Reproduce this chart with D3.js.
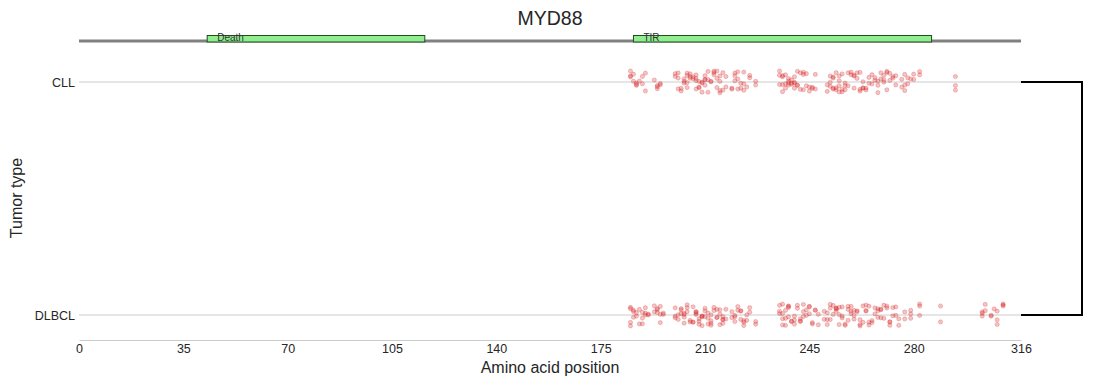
<!DOCTYPE html>
<html lang="en">
  <head>
    <meta charset="utf-8">
    <title>MYD88</title>
    <script src="https://cdn.jsdelivr.net/npm/d3@7"></script>
    <style>
      body { margin: 0; background: #fff; }
      svg text { font-family: "Liberation Sans", Arial, sans-serif; fill: #262626; }
    </style>
  </head>
  <body>
    <script>
    // gene + domains
    var gene = "MYD88";
    var proteinLength = 316;
    var domainNames = ["Death", "TIR"];
    var domainStart = [43, 186];
    var domainEnd = [116, 286];

    var tumorTypes = ["CLL", "DLBCL"];
    var xTicks = [0, 35, 70, 105, 140, 175, 210, 245, 280, 316];

    // mutation positions (aa) and how many mutations at each, per tumor type
    var cllPos = [185,186,187,188,189,190,193,194,195,
      200,201,202,203,204,205,206,207,208,209,210,211,212,213,214,215,216,217,219,220,221,222,223,224,225,227,
      235,236,237,238,239,240,241,242,243,244,245,246,247,
      251,252,253,254,255,256,257,258,259,260,261,262,263,264,265,266,267,268,269,270,271,272,273,274,276,277,278,279,280,282,
      294];
    var cllCount = [3,2,3,1,2,2,1,3,2,
      2,3,2,3,4,3,2,4,3,3,4,3,2,3,3,4,2,2,2,3,3,2,3,1,2,2,
      3,4,3,4,3,4,3,2,3,2,2,2,2,
      2,3,4,3,4,3,3,2,2,3,2,3,3,2,2,2,2,3,2,3,3,2,2,2,2,3,2,1,2,2,
      3];
    var dlbclPos = [185,186,187,188,189,190,191,193,194,195,196,
      200,201,202,203,204,205,206,207,208,209,210,211,212,213,214,215,216,217,219,220,221,222,223,224,225,227,
      235,236,237,238,239,240,241,242,243,244,245,246,247,248,
      250,251,252,253,254,255,256,257,258,259,260,261,262,263,264,265,266,267,268,269,270,271,272,273,274,275,277,279,282,
      289,
      303,304,306,307,308,310];
    var dlbclCount = [4,3,2,2,3,3,2,2,3,3,2,
      3,2,3,4,3,2,3,4,3,4,3,3,4,2,3,3,4,2,2,3,2,3,3,2,2,2,
      3,4,3,4,2,3,2,3,3,2,3,2,2,2,
      2,3,3,2,4,3,3,2,3,3,3,2,3,2,3,3,2,2,3,3,2,2,3,2,2,2,2,3,3,
      2,
      3,2,2,1,3,3];

    var w = 1095, h = 385;
    var left = 79, right = 1021;

    var svg = d3.select("body").append("svg")
                .attr("width", w)
                .attr("height", h);

    var xScale = d3.scaleLinear().domain([0, proteinLength]).range([left, right]);
    var yScale = d3.scalePoint().domain(tumorTypes).range([82, 315]);

    // expand to one record per mutation
    var points = [];
    function addRows(type, pos, cnt) {
      pos.forEach(function(p, i) {
        for (var k = 0; k < cnt[i]; k++) points.push({type: type, pos: p});
      });
    }
    addRows("CLL", cllPos, cllCount);
    addRows("DLBCL", dlbclPos, dlbclCount);

    // gridlines
    svg.selectAll("line.grid")
       .data(tumorTypes)
       .enter().append("line")
       .attr("class", "grid")
       .attr("x1", left).attr("x2", right)
       .attr("y1", function(d) { return yScale(d); })
       .attr("y2", function(d) { return yScale(d); })
       .attr("stroke", "#cccccc").attr("stroke-width", 1);

    // y axis labels
    var yAxis = d3.axisLeft(yScale).tickSize(0).tickPadding(4);
    var gy = svg.append("g").attr("transform", "translate(" + left + ",0)").call(yAxis);
    gy.select(".domain").remove();
    gy.selectAll("text").style("font-size", "12.5px").style("fill", "#262626")
      .style("font-family", "'Liberation Sans', Arial, sans-serif");

    // x axis
    var xAxis = d3.axisBottom(xScale).tickValues(xTicks).tickSize(0).tickPadding(4);
    var gx = svg.append("g").attr("transform", "translate(0,340)").call(xAxis);
    gx.select(".domain").attr("stroke", "#cccccc");
    gx.selectAll("text").style("font-size", "12.5px").style("fill", "#262626")
      .style("font-family", "'Liberation Sans', Arial, sans-serif");

    // protein backbone + domains
    svg.append("line")
       .attr("x1", xScale(0)).attr("x2", xScale(proteinLength))
       .attr("y1", 41).attr("y2", 41)
       .attr("stroke", "#808080").attr("stroke-width", 3);

    svg.selectAll("rect.domain")
       .data(domainNames)
       .enter().append("rect")
       .attr("class", "domain")
       .attr("x", function(d, i) { return xScale(domainStart[i]); })
       .attr("width", function(d, i) { return xScale(domainEnd[i]) - xScale(domainStart[i]); })
       .attr("y", 35.5).attr("height", 6.5)
       .attr("fill", "#90ee90").attr("stroke", "#1e4d1e").attr("stroke-width", 1);

    svg.selectAll("text.dlabel")
       .data(domainNames)
       .enter().append("text")
       .attr("class", "dlabel")
       .attr("x", function(d, i) { return xScale(domainStart[i]) + 10; })
       .attr("y", 41)
       .style("font-size", "10px")
       .style("fill", "#333")
       .text(function(d) { return d; });

    // strip points, deterministic jitter (integer hash of the index)
    function jit(i) {
      var t = Math.imul(i + 1, 0x6D2B79F5) | 0;
      t = Math.imul(t ^ (t >>> 15), t | 1);
      t ^= t + Math.imul(t ^ (t >>> 7), t | 61);
      return ((t ^ (t >>> 14)) >>> 0) / 4294967296;
    }
    svg.append("g").selectAll("circle")
       .data(points)
       .enter().append("circle")
       .attr("cx", function(d) { return xScale(d.pos); })
       .attr("cy", function(d, i) {
         return yScale(d.type) + (jit(i) - 0.5) * 22;
       })
       .attr("r", 2.1)
       .attr("fill", "#d62728").attr("fill-opacity", 0.28)
       .attr("stroke", "#d62728").attr("stroke-opacity", 0.3).attr("stroke-width", 0.8);

    // dendrogram bracket
    var yA = yScale("CLL"), yB = yScale("DLBCL");
    svg.append("path")
       .attr("d", "M" + right + "," + yA + "H1082V" + yB + "H" + right)
       .attr("fill", "none").attr("stroke", "#000").attr("stroke-width", 2);

    // titles
    svg.append("text").attr("x", (left + right) / 2).attr("y", 25)
       .attr("text-anchor", "middle").style("font-size", "19.5px").text(gene);
    svg.append("text").attr("x", (left + right) / 2).attr("y", 373)
       .attr("text-anchor", "middle").style("font-size", "16px").text("Amino acid position");
    svg.append("text").attr("transform", "translate(22,198) rotate(-90)")
       .attr("text-anchor", "middle").style("font-size", "16px").text("Tumor type");
    </script>
  </body>
</html>
